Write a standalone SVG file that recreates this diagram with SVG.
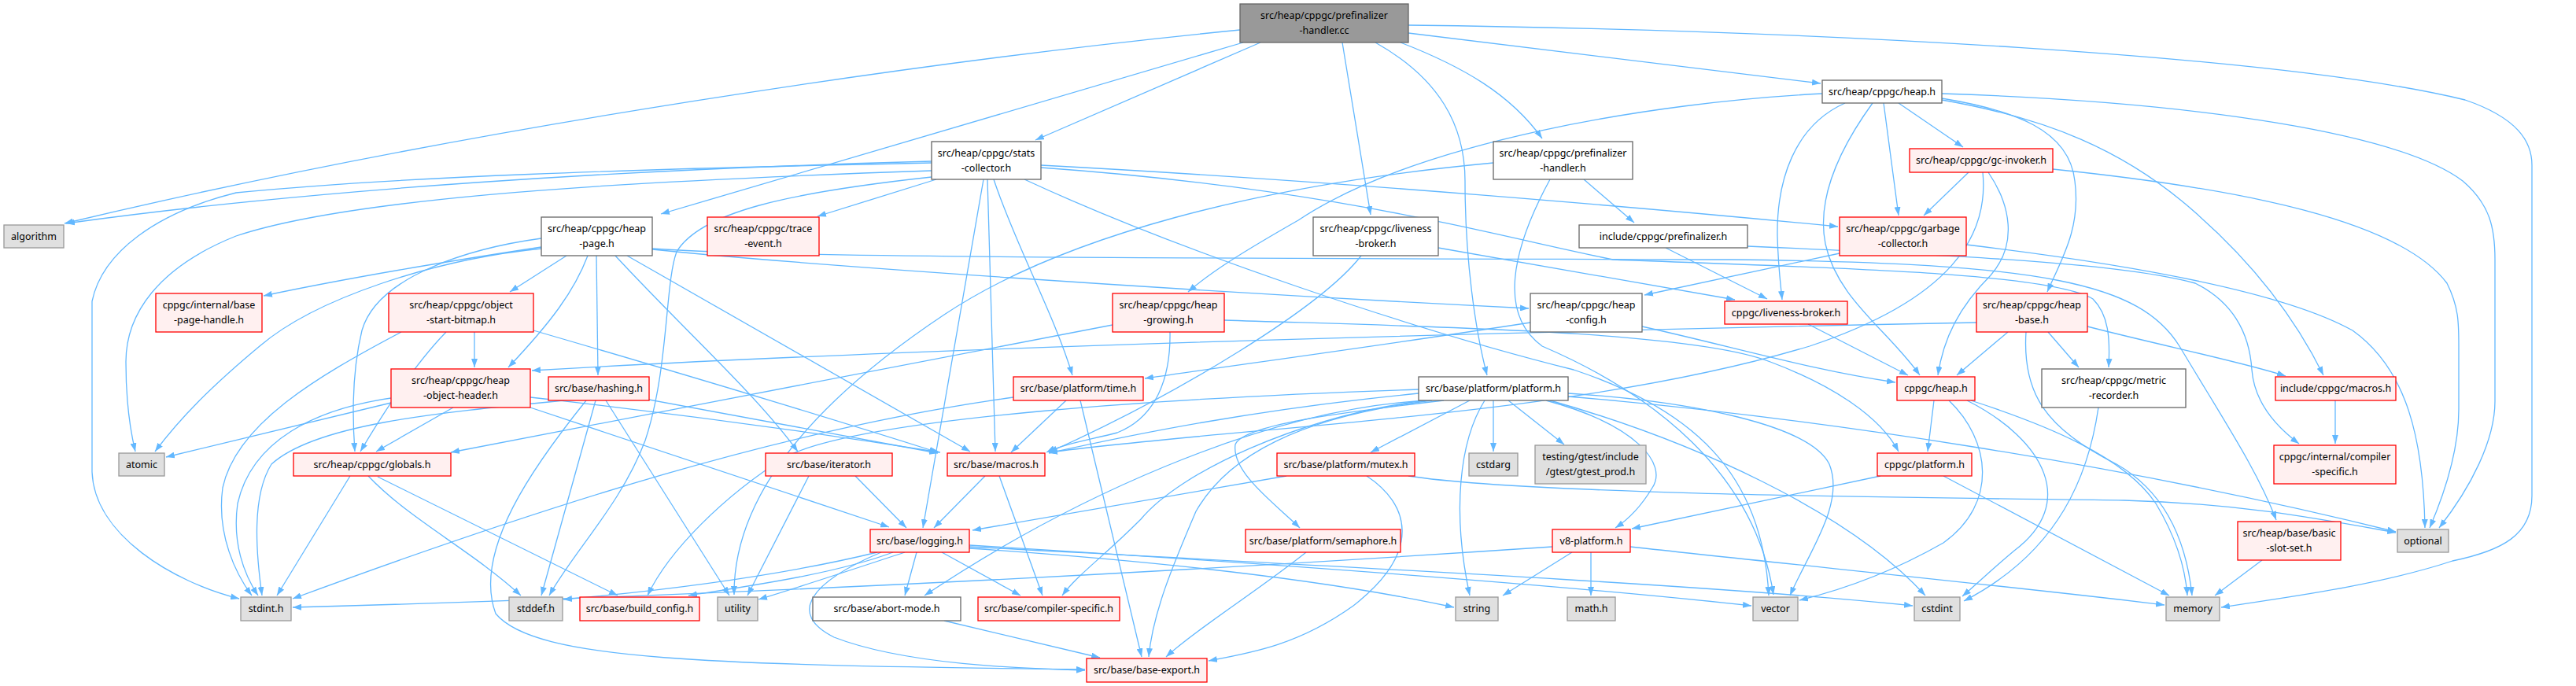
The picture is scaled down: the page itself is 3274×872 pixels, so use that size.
<svg xmlns="http://www.w3.org/2000/svg" width="3274" height="872" viewBox="0 0 3274 872">
<defs>
<marker id="a" viewBox="0 0 11 8" refX="11" refY="4" markerWidth="11" markerHeight="8" markerUnits="userSpaceOnUse" orient="auto"><path d="M0,0 L11,4 L0,8 z" fill="#63b8ff"/></marker>
</defs>
<style>
rect{stroke-width:1.3}
.root{fill:#999999;stroke:#666666}
.w{fill:#ffffff;stroke:#666666}
.r{fill:#fff0f0;stroke:#ff0000}
.g{fill:#e0e0e0;stroke:#999999}
text{font-family:"Noto Sans","DejaVu Sans",sans-serif;font-size:12.5px;text-anchor:middle;fill:#000000}
#edges path{fill:none;stroke:#63b8ff;stroke-width:1.3;marker-end:url(#a)}
</style>
<rect width="3274" height="872" fill="#ffffff"/>
<g id="edges">
<path d="M1576,38 C1200,75 600,160 82,284"/>
<path d="M1580,54 L840,272"/>
<path d="M1602,54 L1316,178"/>
<path d="M1706,54 L1742,273"/>
<path d="M1748,54 C1830,100 1862,160 1862,230 C1862,330 1875,420 1890,477"/>
<path d="M1780,54 C1860,85 1920,120 1960,176"/>
<path d="M1790,42 L2314,106"/>
<path d="M1790,32 C2300,38 2900,70 3133,127 C3200,150 3218,180 3218,210 L3218,630 C3218,680 3180,700 3117,713 C3020,745 2900,760 2823,772"/>
<path d="M2013,228 L2077,283"/>
<path d="M1898,207 C1600,235 1350,300 1200,400 C1050,500 932,620 933,756"/>
<path d="M1970,228 C1920,320 1905,400 1960,440 C2100,500 2230,600 2254,756"/>
<path d="M2117,315 L2246,380"/>
<path d="M2221,313 C2500,325 2700,335 2790,360 C2850,390 2860,440 2862,470 C2865,510 2890,540 2922,564"/>
<path d="M2316,119 C2100,130 1800,180 1650,280 C1580,320 1540,345 1510,371"/>
<path d="M2345,131 C2280,160 2258,230 2259,300 C2260,340 2263,360 2265,381"/>
<path d="M2380,131 C2330,200 2310,260 2320,310 C2335,380 2400,420 2440,477"/>
<path d="M2394,131 L2413,274"/>
<path d="M2413,131 L2495,187"/>
<path d="M2468,125 C2560,140 2630,165 2637,230 C2645,290 2620,330 2602,371"/>
<path d="M2468,127 C2600,150 2700,190 2790,270 C2870,340 2920,410 2953,477"/>
<path d="M2468,119 C2800,130 3050,170 3130,230 C3165,260 3171,290 3171,330 L3171,510 C3171,560 3140,620 3100,671"/>
<path d="M2502,219 L2445,274"/>
<path d="M2609,215 C2850,240 3050,280 3110,360 C3125,390 3125,410 3125,440 L3125,520 C3125,570 3110,620 3088,671"/>
<path d="M2527,219 C2555,260 2565,310 2530,350 C2490,390 2470,430 2463,477"/>
<path d="M2520,219 C2528,300 2480,380 2300,440 C2000,530 1600,540 1333,575"/>
<path d="M2338,322 L2090,375"/>
<path d="M2499,311 C2700,335 2900,370 2990,420 C3060,470 3080,560 3082,671"/>
<path d="M1184,205 C800,215 400,240 84,284"/>
<path d="M1184,207 C800,215 500,225 300,245 C200,270 130,320 117,383 L117,600 C120,680 220,740 304,761"/>
<path d="M1184,217 C800,230 450,250 300,300 C200,340 160,400 160,460 C160,510 165,545 172,574"/>
<path d="M1184,225 C1000,245 890,270 860,320 C845,360 850,470 820,560 C790,640 730,700 698,757"/>
<path d="M1190,228 L1039,275"/>
<path d="M1250,228 L1173,671"/>
<path d="M1255,228 L1265,574"/>
<path d="M1263,228 C1290,310 1340,400 1363,477"/>
<path d="M1323,210 C1700,230 2100,265 2336,288"/>
<path d="M1323,213 C1700,240 1900,300 2050,330 C2300,340 2600,345 2660,380 C2680,400 2682,430 2680,467"/>
<path d="M1302,228 C1500,320 1800,420 2000,470 C2150,520 2240,600 2248,757"/>
<path d="M720,325 L648,371"/>
<path d="M688,314 C550,335 420,358 335,376"/>
<path d="M688,316 C550,330 400,380 330,440 C270,490 230,530 197,574"/>
<path d="M688,303 C600,315 480,350 460,420 C448,470 447,520 451,574"/>
<path d="M747,325 C730,370 700,410 646,467"/>
<path d="M758,325 L760,477"/>
<path d="M782,325 C870,420 960,500 1014,574"/>
<path d="M797,325 L1233,574"/>
<path d="M829,317 C1000,335 1500,370 1943,392"/>
<path d="M829,316 C1000,328 1500,328 2200,330 C2600,334 2720,360 2770,440 C2830,540 2870,600 2893,661"/>
<path d="M603,422 L603,467"/>
<path d="M567,422 C530,460 490,520 458,574"/>
<path d="M510,422 C400,480 300,540 283,620 C275,680 300,730 320,757"/>
<path d="M678,420 C850,470 1050,530 1192,575"/>
<path d="M497,512 L211,581"/>
<path d="M576,518 L478,574"/>
<path d="M497,506 C400,520 320,560 302,640 C295,690 310,730 328,757"/>
<path d="M674,518 L1130,670"/>
<path d="M674,505 C900,530 1100,560 1195,575"/>
<path d="M757,509 L688,757"/>
<path d="M770,509 L927,757"/>
<path d="M717,509 C550,525 400,540 345,590 C320,630 325,700 333,757"/>
<path d="M825,508 L1192,576"/>
<path d="M745,509 C680,590 600,700 630,780 C680,840 900,845 1379,851"/>
<path d="M445,605 L352,757"/>
<path d="M468,605 C520,660 600,700 662,757"/>
<path d="M480,606 L785,757"/>
<path d="M1028,605 L950,757"/>
<path d="M1087,605 L1152,671"/>
<path d="M1252,605 L1187,671"/>
<path d="M1270,605 L1325,757"/>
<path d="M1115,702 C1000,730 850,750 716,762"/>
<path d="M1135,702 C1060,730 950,745 875,757"/>
<path d="M1150,702 C1080,725 1020,745 964,762"/>
<path d="M1165,702 L1150,757"/>
<path d="M1197,702 L1297,757"/>
<path d="M1120,702 C1030,740 1000,780 1060,810 C1150,845 1300,850 1379,852"/>
<path d="M1232,697 C1500,715 1700,740 1848,772"/>
<path d="M1232,693 C1600,715 2000,745 2226,770"/>
<path d="M1232,695 C1700,720 2200,745 2431,770"/>
<path d="M1200,789 L1398,836"/>
<path d="M1355,509 L1285,575"/>
<path d="M1373,509 L1451,835"/>
<path d="M1288,505 C1000,545 700,640 372,761"/>
<path d="M1487,422 C1488,480 1470,530 1420,550 C1380,560 1350,565 1330,575"/>
<path d="M1414,413 L573,575"/>
<path d="M1556,407 C1800,415 2150,420 2250,460 C2330,490 2390,530 2413,574"/>
<path d="M1945,410 C1750,440 1600,460 1455,481"/>
<path d="M2087,415 C2200,440 2300,470 2409,486"/>
<path d="M1828,315 L2205,381"/>
<path d="M1730,325 C1680,390 1500,500 1333,575"/>
<path d="M1868,509 L1742,575"/>
<path d="M1898,509 L1898,574"/>
<path d="M1917,509 L1988,565"/>
<path d="M1887,509 C1855,560 1845,650 1868,757"/>
<path d="M1965,509 C2080,540 2120,590 2100,620 C2085,645 2070,660 2053,671"/>
<path d="M1835,509 C1700,525 1580,540 1570,565 C1565,600 1620,640 1652,671"/>
<path d="M1970,509 C2150,560 2350,650 2447,757"/>
<path d="M1993,500 C2150,510 2300,540 2325,590 C2345,640 2300,700 2275,757"/>
<path d="M1993,504 C2300,530 2700,590 3045,676"/>
<path d="M1803,500 C1600,520 1450,550 1333,576"/>
<path d="M1815,509 C1600,520 1350,640 1175,757"/>
<path d="M1820,509 C1650,530 1560,580 1520,650 C1490,720 1465,780 1460,835"/>
<path d="M1803,495 C1500,505 1100,530 1000,580 C920,630 850,700 823,757"/>
<path d="M1810,509 C1650,530 1500,600 1450,660 C1400,710 1370,730 1350,757"/>
<path d="M1790,605 C1950,630 2500,633 2700,636 C2850,640 2950,660 3045,677"/>
<path d="M1635,605 L1236,674"/>
<path d="M1737,605 C1790,640 1810,700 1720,770 C1650,820 1590,830 1536,840"/>
<path d="M1660,702 C1600,750 1520,800 1482,835"/>
<path d="M2022,702 L2022,757"/>
<path d="M1998,702 L1910,757"/>
<path d="M1973,695 C1600,720 1000,755 372,772"/>
<path d="M2072,695 C2300,720 2600,750 2751,769"/>
<path d="M2458,509 L2450,574"/>
<path d="M2477,509 C2530,560 2540,640 2470,690 C2400,730 2340,750 2287,763"/>
<path d="M2500,509 C2600,560 2640,640 2560,700 C2530,725 2515,740 2494,758"/>
<path d="M2505,509 C2600,540 2700,580 2740,640 C2770,690 2778,730 2780,757"/>
<path d="M2470,605 L2757,757"/>
<path d="M2390,605 L2074,672"/>
<path d="M2552,422 L2487,477"/>
<path d="M2603,422 L2642,467"/>
<path d="M2575,422 C2570,500 2600,545 2690,590 C2760,630 2780,700 2786,757"/>
<path d="M2653,415 C2750,440 2850,460 2905,478"/>
<path d="M2512,410 C2000,420 1200,440 676,471"/>
<path d="M2298,412 L2425,477"/>
<path d="M2667,518 C2655,600 2620,700 2496,764"/>
<path d="M2968,509 L2968,564"/>
<path d="M2875,712 L2815,757"/>
</g>
<g id="n0"><rect class="root" x="1576" y="5" width="214" height="49"/><text x="1683" y="24">src/heap/cppgc/prefinalizer</text><text x="1683" y="43">-handler.cc</text></g>
<g id="n1"><rect class="g" x="5" y="286" width="76" height="29"/><text x="43" y="305">algorithm</text></g>
<g id="n2"><rect class="w" x="688" y="276" width="141" height="49"/><text x="758.5" y="295">src/heap/cppgc/heap</text><text x="758.5" y="314">-page.h</text></g>
<g id="n3"><rect class="w" x="1184" y="180" width="139" height="48"/><text x="1253.5" y="199">src/heap/cppgc/stats</text><text x="1253.5" y="218">-collector.h</text></g>
<g id="n4"><rect class="w" x="1669" y="276" width="159" height="49"/><text x="1748.5" y="295">src/heap/cppgc/liveness</text><text x="1748.5" y="314">-broker.h</text></g>
<g id="n5"><rect class="w" x="1803" y="479" width="190" height="30"/><text x="1898" y="498">src/base/platform/platform.h</text></g>
<g id="n6"><rect class="w" x="1898" y="180" width="177" height="48"/><text x="1986.5" y="199">src/heap/cppgc/prefinalizer</text><text x="1986.5" y="218">-handler.h</text></g>
<g id="n7"><rect class="w" x="2316" y="102" width="152" height="29"/><text x="2392" y="121">src/heap/cppgc/heap.h</text></g>
<g id="n8"><rect class="g" x="2753" y="759" width="68" height="30"/><text x="2787" y="778">memory</text></g>
<g id="n9"><rect class="g" x="3047" y="673" width="65" height="29"/><text x="3079.5" y="692">optional</text></g>
<g id="n10"><rect class="r" x="899" y="276" width="142" height="49"/><text x="970" y="295">src/heap/cppgc/trace</text><text x="970" y="314">-event.h</text></g>
<g id="n11"><rect class="r" x="198" y="373" width="135" height="49"/><text x="265.5" y="392">cppgc/internal/base</text><text x="265.5" y="411">-page-handle.h</text></g>
<g id="n12"><rect class="r" x="494" y="373" width="184" height="49"/><text x="586" y="392">src/heap/cppgc/object</text><text x="586" y="411">-start-bitmap.h</text></g>
<g id="n13"><rect class="r" x="497" y="469" width="177" height="49"/><text x="585.5" y="488">src/heap/cppgc/heap</text><text x="585.5" y="507">-object-header.h</text></g>
<g id="n14"><rect class="r" x="697" y="479" width="128" height="30"/><text x="761" y="498">src/base/hashing.h</text></g>
<g id="n15"><rect class="r" x="373" y="576" width="200" height="29"/><text x="473" y="595">src/heap/cppgc/globals.h</text></g>
<g id="n16"><rect class="g" x="151" y="576" width="58" height="29"/><text x="180" y="595">atomic</text></g>
<g id="n17"><rect class="g" x="306" y="759" width="64" height="30"/><text x="338" y="778">stdint.h</text></g>
<g id="n18"><rect class="g" x="647" y="759" width="68" height="30"/><text x="681" y="778">stddef.h</text></g>
<g id="n19"><rect class="r" x="737" y="759" width="152" height="30"/><text x="813" y="778">src/base/build_config.h</text></g>
<g id="n20"><rect class="g" x="912" y="759" width="51" height="30"/><text x="937.5" y="778">utility</text></g>
<g id="n21"><rect class="r" x="973" y="576" width="161" height="29"/><text x="1053.5" y="595">src/base/iterator.h</text></g>
<g id="n22"><rect class="r" x="1204" y="576" width="124" height="29"/><text x="1266" y="595">src/base/macros.h</text></g>
<g id="n23"><rect class="r" x="1106" y="673" width="126" height="29"/><text x="1169" y="692">src/base/logging.h</text></g>
<g id="n24"><rect class="w" x="1033" y="759" width="188" height="30"/><text x="1127" y="778">src/base/abort-mode.h</text></g>
<g id="n25"><rect class="r" x="1243" y="759" width="180" height="30"/><text x="1333" y="778">src/base/compiler-specific.h</text></g>
<g id="n26"><rect class="r" x="1381" y="837" width="153" height="30"/><text x="1457.5" y="856">src/base/base-export.h</text></g>
<g id="n27"><rect class="r" x="1288" y="479" width="165" height="30"/><text x="1370.5" y="498">src/base/platform/time.h</text></g>
<g id="n28"><rect class="r" x="1414" y="373" width="142" height="49"/><text x="1485" y="392">src/heap/cppgc/heap</text><text x="1485" y="411">-growing.h</text></g>
<g id="n29"><rect class="w" x="1945" y="373" width="142" height="49"/><text x="2016" y="392">src/heap/cppgc/heap</text><text x="2016" y="411">-config.h</text></g>
<g id="n30"><rect class="w" x="2007" y="286" width="214" height="29"/><text x="2114" y="305">include/cppgc/prefinalizer.h</text></g>
<g id="n31"><rect class="r" x="2427" y="189" width="182" height="30"/><text x="2518" y="208">src/heap/cppgc/gc-invoker.h</text></g>
<g id="n32"><rect class="r" x="2338" y="276" width="161" height="49"/><text x="2418.5" y="295">src/heap/cppgc/garbage</text><text x="2418.5" y="314">-collector.h</text></g>
<g id="n33"><rect class="r" x="2192" y="383" width="156" height="29"/><text x="2270" y="402">cppgc/liveness-broker.h</text></g>
<g id="n34"><rect class="r" x="2512" y="373" width="141" height="49"/><text x="2582.5" y="392">src/heap/cppgc/heap</text><text x="2582.5" y="411">-base.h</text></g>
<g id="n35"><rect class="r" x="2411" y="479" width="99" height="30"/><text x="2460.5" y="498">cppgc/heap.h</text></g>
<g id="n36"><rect class="r" x="2386" y="576" width="120" height="29"/><text x="2446" y="595">cppgc/platform.h</text></g>
<g id="n37"><rect class="w" x="2595" y="469" width="183" height="49"/><text x="2686.5" y="488">src/heap/cppgc/metric</text><text x="2686.5" y="507">-recorder.h</text></g>
<g id="n38"><rect class="r" x="2892" y="479" width="153" height="30"/><text x="2968.5" y="498">include/cppgc/macros.h</text></g>
<g id="n39"><rect class="r" x="2890" y="566" width="155" height="49"/><text x="2967.5" y="585">cppgc/internal/compiler</text><text x="2967.5" y="604">-specific.h</text></g>
<g id="n40"><rect class="r" x="2844" y="663" width="131" height="49"/><text x="2909.5" y="682">src/heap/base/basic</text><text x="2909.5" y="701">-slot-set.h</text></g>
<g id="n41"><rect class="r" x="1623" y="576" width="175" height="29"/><text x="1710.5" y="595">src/base/platform/mutex.h</text></g>
<g id="n42"><rect class="g" x="1867" y="576" width="62" height="29"/><text x="1898" y="595">cstdarg</text></g>
<g id="n43"><rect class="g" x="1951" y="566" width="141" height="49"/><text x="2021.5" y="585">testing/gtest/include</text><text x="2021.5" y="604">/gtest/gtest_prod.h</text></g>
<g id="n44"><rect class="r" x="1583" y="673" width="197" height="29"/><text x="1681.5" y="692">src/base/platform/semaphore.h</text></g>
<g id="n45"><rect class="r" x="1973" y="673" width="99" height="29"/><text x="2022.5" y="692">v8-platform.h</text></g>
<g id="n46"><rect class="g" x="1850" y="759" width="54" height="30"/><text x="1877" y="778">string</text></g>
<g id="n47"><rect class="g" x="1992" y="759" width="61" height="30"/><text x="2022.5" y="778">math.h</text></g>
<g id="n48"><rect class="g" x="2228" y="759" width="57" height="30"/><text x="2256.5" y="778">vector</text></g>
<g id="n49"><rect class="g" x="2433" y="759" width="58" height="30"/><text x="2462" y="778">cstdint</text></g>
</svg>
